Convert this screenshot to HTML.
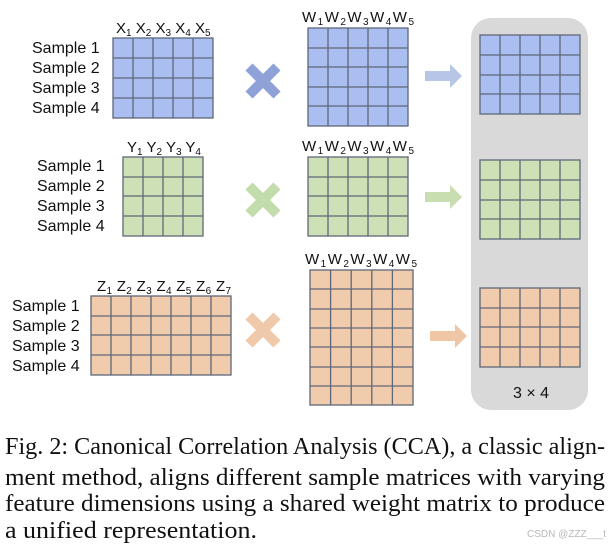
<!DOCTYPE html>
<html><head><meta charset="utf-8"><style>
html,body{margin:0;padding:0;background:#fff;}
svg{display:block;}
.s{font-family:"Liberation Sans",sans-serif;font-size:16px;fill:#111;}
.h{font-family:"Liberation Sans",sans-serif;font-size:15px;fill:#111;}
.c{font-family:"Liberation Serif",serif;font-size:24px;fill:#111;}
</style></head><body>
<svg width="613" height="545" viewBox="0 0 613 545" xmlns="http://www.w3.org/2000/svg">
<rect x="471" y="18" width="117" height="392" rx="20" fill="#d9d9d9"/>

<g stroke="#5f6878" stroke-width="1.3">
<rect x="113" y="38" width="100" height="80" fill="#aabef1"/>
<path d="M133 38V118M153 38V118M173 38V118M193 38V118M113 58H213M113 78H213M113 98H213"/>
<rect x="123" y="157" width="80" height="79" fill="#cde0b6"/>
<path d="M143 157V236M163 157V236M183 157V236M123 177H203M123 196H203M123 216H203"/>
<rect x="91" y="296" width="140" height="79" fill="#f0cbac"/>
<path d="M111 296V375M131 296V375M151 296V375M171 296V375M191 296V375M211 296V375M91 316H231M91 335H231M91 355H231"/>
<rect x="308" y="28" width="100" height="98" fill="#aabef1"/>
<path d="M328 28V126M348 28V126M368 28V126M388 28V126M308 48H408M308 67H408M308 87H408M308 106H408"/>
<rect x="308" y="157" width="100" height="79" fill="#cde0b6"/>
<path d="M328 157V236M348 157V236M368 157V236M388 157V236M308 177H408M308 196H408M308 216H408"/>
<rect x="310" y="270" width="103" height="135" fill="#f0cbac"/>
<path d="M330.6 270V405M351.2 270V405M371.8 270V405M392.4 270V405M310 289H413M310 309H413M310 328H413M310 347H413M310 367H413M310 386H413"/>
<rect x="480" y="35" width="100" height="79" fill="#aabef1"/>
<path d="M500 35V114M520 35V114M540 35V114M560 35V114M480 55H580M480 75H580M480 94H580"/>
<rect x="480" y="160" width="100" height="79" fill="#cde0b6"/>
<path d="M500 160V239M520 160V239M540 160V239M560 160V239M480 180H580M480 200H580M480 219H580"/>
<rect x="480" y="288" width="100" height="79" fill="#f0cbac"/>
<path d="M500 288V367M520 288V367M540 288V367M560 288V367M480 308H580M480 327H580M480 347H580"/>
</g>

<g stroke-width="10" stroke-linecap="butt">
<path d="M249 67L277 95M277 67L249 95" stroke="#8ea2d8"/>
<path d="M249 186L277 214M277 186L249 214" stroke="#c3dcab"/>
<path d="M249 316L277 344M277 316L249 344" stroke="#efc9aa"/>
</g>
<path d="M425 71H450V64L462 76L450 88V81H425Z" fill="#b7c5e6"/>
<path d="M425 192H450V185L462 197L450 209V202H425Z" fill="#c9deb0"/>
<path d="M430 331H455V324L467 336L455 348V341H430Z" fill="#efc6a6"/>

<g class="s">
<text x="32" y="53">Sample 1</text><text x="32" y="73">Sample 2</text><text x="32" y="93">Sample 3</text><text x="32" y="113">Sample 4</text>
<text x="37" y="171">Sample 1</text><text x="37" y="191">Sample 2</text><text x="37" y="211">Sample 3</text><text x="37" y="231">Sample 4</text>
<text x="12" y="311">Sample 1</text><text x="12" y="331">Sample 2</text><text x="12" y="351">Sample 3</text><text x="12" y="371">Sample 4</text>
</g>
<g class="h">
<text x="116" y="33">X<tspan font-size="10" dy="3">1</tspan><tspan dy="-3"> X</tspan><tspan font-size="10" dy="3">2</tspan><tspan dy="-3"> X</tspan><tspan font-size="10" dy="3">3</tspan><tspan dy="-3"> X</tspan><tspan font-size="10" dy="3">4</tspan><tspan dy="-3"> X</tspan><tspan font-size="10" dy="3">5</tspan></text>
<text x="127" y="152">Y<tspan font-size="10" dy="3">1</tspan><tspan dy="-3"> Y</tspan><tspan font-size="10" dy="3">2</tspan><tspan dy="-3"> Y</tspan><tspan font-size="10" dy="3">3</tspan><tspan dy="-3"> Y</tspan><tspan font-size="10" dy="3">4</tspan></text>
<text x="97" y="291" textLength="134">Z<tspan font-size="10" dy="3">1</tspan><tspan dy="-3"> Z</tspan><tspan font-size="10" dy="3">2</tspan><tspan dy="-3"> Z</tspan><tspan font-size="10" dy="3">3</tspan><tspan dy="-3"> Z</tspan><tspan font-size="10" dy="3">4</tspan><tspan dy="-3"> Z</tspan><tspan font-size="10" dy="3">5</tspan><tspan dy="-3"> Z</tspan><tspan font-size="10" dy="3">6</tspan><tspan dy="-3"> Z</tspan><tspan font-size="10" dy="3">7</tspan></text>
<text x="302" y="22" textLength="112">W<tspan font-size="10" dy="3">1</tspan><tspan dy="-3">W</tspan><tspan font-size="10" dy="3">2</tspan><tspan dy="-3">W</tspan><tspan font-size="10" dy="3">3</tspan><tspan dy="-3">W</tspan><tspan font-size="10" dy="3">4</tspan><tspan dy="-3">W</tspan><tspan font-size="10" dy="3">5</tspan></text>
<text x="302" y="151" textLength="112">W<tspan font-size="10" dy="3">1</tspan><tspan dy="-3">W</tspan><tspan font-size="10" dy="3">2</tspan><tspan dy="-3">W</tspan><tspan font-size="10" dy="3">3</tspan><tspan dy="-3">W</tspan><tspan font-size="10" dy="3">4</tspan><tspan dy="-3">W</tspan><tspan font-size="10" dy="3">5</tspan></text>
<text x="305" y="264" textLength="112">W<tspan font-size="10" dy="3">1</tspan><tspan dy="-3">W</tspan><tspan font-size="10" dy="3">2</tspan><tspan dy="-3">W</tspan><tspan font-size="10" dy="3">3</tspan><tspan dy="-3">W</tspan><tspan font-size="10" dy="3">4</tspan><tspan dy="-3">W</tspan><tspan font-size="10" dy="3">5</tspan></text>
<text x="513" y="398" font-size="16">3 × 4</text>
</g>

<g class="c">
<text x="5" y="454" textLength="600" lengthAdjust="spacingAndGlyphs">Fig. 2: Canonical Correlation Analysis (CCA), a classic align-</text>
<text x="5" y="485" textLength="600" lengthAdjust="spacingAndGlyphs">ment method, aligns different sample matrices with varying</text>
<text x="5" y="511" textLength="600" lengthAdjust="spacingAndGlyphs">feature dimensions using a shared weight matrix to produce</text>
<text x="5" y="538" textLength="252" lengthAdjust="spacingAndGlyphs">a unified representation.</text>
</g>
<text x="527" y="537" font-family="Liberation Sans,sans-serif" font-size="10" fill="#b8b8b8">CSDN @ZZZ___t</text>
</svg>
</body></html>
